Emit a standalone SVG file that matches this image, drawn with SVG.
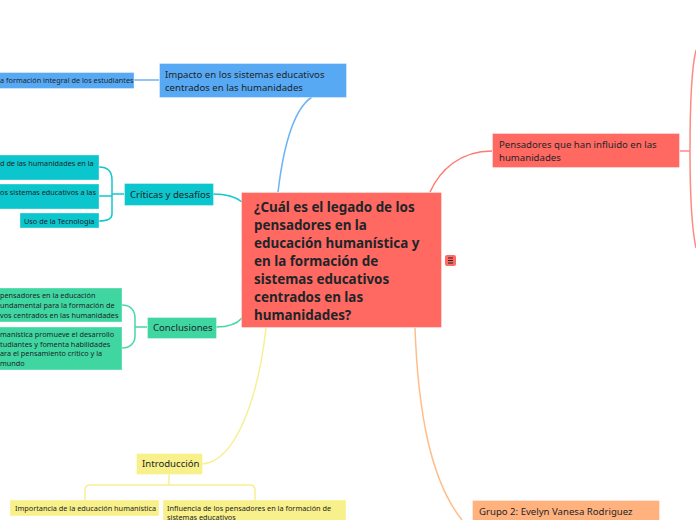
<svg xmlns="http://www.w3.org/2000/svg" width="696" height="520" viewBox="0 0 696 520">
<style>
text{font-family:"Noto Sans","Open Sans","DejaVu Sans",sans-serif;fill:#1d2529}
.t10{font-size:9.6px}
.t7{font-size:7.3px}
.c{fill:none;stroke-width:1.5}
.node rect{stroke:#ffffff;stroke-opacity:0.35;stroke-width:1}
</style>
<rect width="696" height="520" fill="#ffffff"/>
<g id="connectors">
<path class="c" stroke="#6db3f5" d="M278,192 C283,150 292,110 312,97"/>
<path class="c" stroke="#6db3f5" d="M134,80 L159,80"/>
<path class="c" stroke="#14c7cc" d="M213,194 C228,194 236,197 242,202"/>
<path class="c" stroke="#14c7cc" d="M124,194 L112,194 M99,167 C108,167 112,172 112,180 L112,214 C112,218 108,221 99,221 M99,196 L112,196"/>
<path class="c" stroke="#48d7a6" d="M216,327 C230,327 237,324 242,318"/>
<path class="c" stroke="#48d7a6" d="M147,327 L135,327 M122,305 C130,305 135,310 135,318 L135,336 C135,343 130,348 122,348"/>
<path class="c" stroke="#f6ef94" d="M202,464 C235,462 258,400 266,328"/>
<path class="c" stroke="#f6ef94" d="M169,474 L169,485 M85,500 L85,490 Q85,485 90,485 L250,485 Q255,485 255,490 L255,500"/>
<path class="c" stroke="#ff7a72" d="M430,192 C440,170 460,151 492,151"/>
<path class="c" stroke="#ff8a83" d="M680,151 L690,151 M696,50 C691,70 690,110 690,151 C690,195 691,225 696,248"/>
<path class="c" stroke="#ffbd8b" d="M415,328 C418,410 430,480 462,520"/>
</g>
<g id="n-central" class="node">
<rect x="241.5" y="192.5" width="200" height="135" fill="#ff6961"/>
<text font-weight="bold" font-size="13.4" x="254">
<tspan x="254" y="212">¿Cuál es el legado de los</tspan>
<tspan x="254" y="230">pensadores en la</tspan>
<tspan x="254" y="248">educación humanística y</tspan>
<tspan x="254" y="266">en la formación de</tspan>
<tspan x="254" y="284">sistemas educativos</tspan>
<tspan x="254" y="302">centrados en las</tspan>
<tspan x="254" y="320">humanidades?</tspan>
</text>
</g>
<g id="n-icon">
<rect x="445" y="255" width="11" height="11" rx="2" fill="#ff6961"/>
<path d="M448,258 h5 M448,260.5 h5 M448,263 h5" stroke="#1d2529" stroke-width="1"/>
</g>
<g id="n-impacto" class="node">
<rect x="159.5" y="63.5" width="187" height="34" fill="#58a9f4"/>
<text class="t10" x="165" y="78">Impacto en los sistemas educativos</text>
<text class="t10" x="165" y="91">centrados en las humanidades</text>
</g>
<g id="n-formacion" class="node">
<rect x="-2" y="72.5" width="136" height="16" fill="#58a9f4"/>
<text class="t7" x="0" y="83">a formación integral de los estudiantes</text>
</g>
<g id="n-criticas" class="node">
<rect x="124.5" y="183.5" width="89" height="22" fill="#0cc6ce"/>
<text class="t10" x="130" y="198">Críticas y desafíos</text>
</g>
<g id="n-crit1" class="node">
<rect x="-2" y="155" width="101" height="25" fill="#0cc6ce"/>
<text class="t7" x="0" y="166">d de las humanidades en la</text>
</g>
<g id="n-crit2" class="node">
<rect x="-2" y="184" width="101" height="25" fill="#0cc6ce"/>
<text class="t7" x="0" y="195">os sistemas educativos a las</text>
</g>
<g id="n-crit3" class="node">
<rect x="20" y="213" width="79" height="15" fill="#0cc6ce"/>
<text class="t7" x="24" y="224">Uso de la Tecnología</text>
</g>
<g id="n-conclusiones" class="node">
<rect x="147.5" y="317.5" width="69" height="21" fill="#40d6a2"/>
<text class="t10" x="153" y="331">Conclusiones</text>
</g>
<g id="n-conc1" class="node">
<rect x="-2" y="288" width="124" height="34" fill="#40d6a2"/>
<text class="t7" x="0" y="298">pensadores en la educación</text>
<text class="t7" x="0" y="308">undamental para la formación de</text>
<text class="t7" x="0" y="318">vos centrados en las humanidades</text>
</g>
<g id="n-conc2" class="node">
<rect x="-2" y="327" width="124" height="43" fill="#40d6a2"/>
<text class="t7" x="0" y="337">manística promueve el desarrollo</text>
<text class="t7" x="0" y="347">tudiantes y fomenta habilidades</text>
<text class="t7" x="0" y="356">ara el pensamiento crítico y la</text>
<text class="t7" x="0" y="366"> mundo</text>
</g>
<g id="n-introduccion" class="node">
<rect x="136.5" y="453.5" width="66" height="21" fill="#f8f08a"/>
<text class="t10" x="142" y="467">Introducción</text>
</g>
<g id="n-intro1" class="node">
<rect x="10" y="500" width="149" height="16" fill="#f8f08a"/>
<text class="t7" x="15" y="511">Importancia de la educación humanística</text>
</g>
<g id="n-intro2" class="node">
<rect x="163" y="500" width="183" height="24" fill="#f8f08a"/>
<text class="t7" x="167" y="511">Influencia de los pensadores en la formación de</text>
<text class="t7" x="167" y="520">sistemas educativos</text>
</g>
<g id="n-pensadores" class="node">
<rect x="492.5" y="133.5" width="187" height="34" fill="#ff6961"/>
<text class="t10" x="499" y="148">Pensadores que han influido en las</text>
<text class="t10" x="499" y="161">humanidades</text>
</g>
<g id="n-grupo" class="node">
<rect x="472.5" y="500.5" width="187" height="24" fill="#ffb27e"/>
<text class="t10" x="479" y="515">Grupo 2: Evelyn Vanesa Rodriguez</text>
</g>
</svg>
